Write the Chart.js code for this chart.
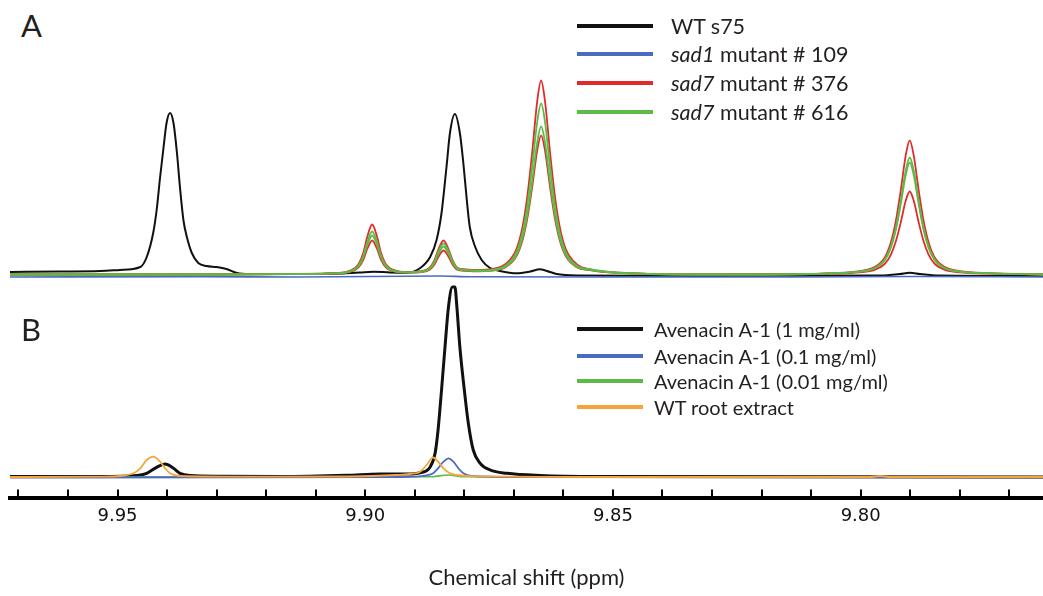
<!DOCTYPE html>
<html>
<head>
<meta charset="utf-8">
<script src="https://cdn.jsdelivr.net/npm/chart.js@4/dist/chart.umd.min.js"></script>
<style>
  body { margin: 0; background: #fff; }
  #wrap { position: relative; width: 1043px; height: 596px; overflow: hidden; font-family: Lato, 'Open Sans', sans-serif; color: #231f20; }
  canvas { position: absolute; left: 0; }
  .panel { position: absolute; left: 21px; font-size: 31px; line-height: 31px; }
  .lg-line { position: absolute; height: 4px; }
  .lg-text { position: absolute; line-height: 24px; white-space: nowrap; }
</style>
</head>
<body>
<div id="wrap">
  <canvas id="chartA" width="1043" height="225" style="top:60px"></canvas>
  <canvas id="chartB" width="1043" height="316" style="top:280px"></canvas>
  <div class="panel" style="top:10px">A</div>
  <div class="panel" style="top:314px">B</div>
</div>
<script>
// ---- panel A : root extracts ----
const namesA = ['WT s75', '<i>sad1</i> mutant # 109', '<i>sad7</i> mutant # 376', '<i>sad7</i> mutant # 616']
const coloursA = ['#111111', '#4a6cc0', '#e32a2a', '#5dba47']

const ppmWtA = [9.9717, 9.9616, 9.9535, 9.9495, 9.9454, 9.9441, 9.9428, 9.9421, 9.9414, 9.9407, 9.9401, 9.9394, 9.9387, 9.9380, 9.9374, 9.9367, 9.9360, 9.9350, 9.9337, 9.9320, 9.9300, 9.9280, 9.9259, 9.9233, 9.9132, 9.9051, 9.9011, 9.8984, 9.8950, 9.8916, 9.8889, 9.8869, 9.8856, 9.8846, 9.8836, 9.8829, 9.8819, 9.8809, 9.8802, 9.8795, 9.8789, 9.8778, 9.8765, 9.8748, 9.8728, 9.8694, 9.8667, 9.8647, 9.8627, 9.8614, 9.8573, 9.8324, 9.7961, 9.7921, 9.7901, 9.7880, 9.7840, 9.7632]
const intWtA = [4, 4.5, 5, 6, 9, 19, 43, 66, 99, 129, 153, 163, 153, 123, 89, 56, 39, 23, 13, 10, 9, 7, 3, 2, 2, 2.5, 3.5, 4.3, 3.5, 3.3, 8, 19, 36, 63, 109, 143, 162, 143, 113, 76, 49, 29, 16, 8, 5, 2.7, 4.5, 6.7, 4, 2, 0.5, 0, 0.5, 2, 3.3, 2, 0.5, 0]

const ppmSad1A = [9.9717, 9.9333, 9.9132, 9.8849, 9.8789, 9.8529, 9.8123, 9.7901, 9.7632]
const intSad1A = [-1, -0.8, -1, 0, -0.8, -1, -1, -0.5, -1]

// sad7 lines share one ppm grid (two traces per mutant)
const ppmSad7A = [9.9717, 9.9500, 9.9400, 9.9300, 9.9150, 9.9057, 9.9030, 9.9014, 9.9004, 9.8996, 9.8986, 9.8976, 9.8968, 9.8958, 9.8942, 9.8914, 9.8886, 9.8870, 9.8860, 9.8852, 9.8842, 9.8832, 9.8824, 9.8814, 9.8798, 9.8771, 9.8746, 9.8716, 9.8695, 9.8683, 9.8673, 9.8663, 9.8653, 9.8645, 9.8637, 9.8627, 9.8617, 9.8607, 9.8595, 9.8574, 9.8544, 9.8484, 9.8300, 9.8100, 9.8062, 9.8002, 9.7972, 9.7951, 9.7939, 9.7929, 9.7919, 9.7909, 9.7901, 9.7893, 9.7883, 9.7873, 9.7863, 9.7851, 9.7830, 9.7800, 9.7740, 9.7632]
const int376a = [1.5, 1.5, 1.5, 1.5, 2, 3, 5.5, 11.5, 23, 39, 51.5, 39, 23, 11.5, 6, 4, 4.8, 8.3, 16.1, 27, 35.5, 27, 16.1, 8.3, 6.7, 6, 6.8, 12.2, 26.7, 48.1, 79.1, 123.7, 174.2, 195.5, 174.2, 123.7, 79.1, 48.1, 26.7, 12.2, 6.4, 3.4, 1.5, 2, 2.8, 4.9, 8.9, 18.9, 33.7, 55.1, 85.9, 120.8, 135.5, 120.8, 85.9, 55.1, 33.7, 18.9, 8.9, 4.9, 2.8, 1.5]
const int376b = [1.5, 1.5, 1.5, 1.5, 1.8, 2.5, 4.2, 8.3, 16.1, 27, 35.5, 27, 16.1, 8.3, 4.5, 3.2, 3.8, 6.3, 11.8, 19.5, 25.5, 19.5, 11.8, 6.3, 5.2, 4.7, 5.3, 9.1, 19.6, 34.9, 57.1, 89.1, 125.2, 140.5, 125.2, 89.1, 57.1, 34.9, 19.6, 9.1, 5.7, 2.9, 1.5, 2, 2.3, 3.6, 6.1, 12.3, 21.4, 34.7, 53.8, 75.4, 84.5, 75.4, 53.8, 34.7, 21.4, 12.3, 6.1, 3.6, 2.3, 1.5]
const int616a = [1.5, 1.5, 1.5, 1.5, 1.9, 2.8, 4.9, 10.1, 20, 33.8, 44.5, 33.8, 20, 10.1, 5.3, 3.7, 4.5, 7.7, 14.8, 24.8, 32.5, 24.8, 14.8, 7.7, 6.2, 5.5, 6.2, 10.9, 23.7, 42.5, 69.9, 109.2, 153.7, 172.5, 153.7, 109.2, 69.9, 42.5, 23.7, 10.9, 6.6, 3.2, 1.5, 2, 2.7, 4.4, 7.9, 16.7, 29.6, 48.3, 75.2, 105.6, 118.5, 105.6, 75.2, 48.3, 29.6, 16.7, 7.9, 4.4, 2.7, 1.5]
const int616b = [1.5, 1.5, 1.5, 1.5, 1.9, 2.7, 4.6, 9.3, 18.3, 30.8, 40.5, 30.8, 18.3, 9.3, 4.9, 3.5, 4.2, 7.1, 13.5, 22.5, 29.5, 22.5, 13.5, 7.1, 5.6, 5, 5.5, 9.6, 20.7, 37, 60.7, 94.7, 133.2, 149.5, 133.2, 94.7, 60.7, 37, 20.7, 9.6, 5.9, 3, 1.5, 2, 2.6, 4.3, 7.7, 16.1, 28.4, 46.3, 72.1, 101.2, 113.5, 101.2, 72.1, 46.3, 28.4, 16.1, 7.7, 4.3, 2.6, 1.5]

// ---- panel B : avenacin A-1 standards ----
const namesB = ['Avenacin A-1 (1 mg/ml)', 'Avenacin A-1 (0.1 mg/ml)', 'Avenacin A-1 (0.01 mg/ml)', 'WT root extract']
const coloursB = ['#111111', '#4a6cc0', '#5dba47', '#f7a53b']

const ppm1mg = [9.9717, 9.9535, 9.9461, 9.9441, 9.9421, 9.9404, 9.9387, 9.9374, 9.9354, 9.9293, 9.9172, 9.9037, 9.8970, 9.8916, 9.8889, 9.8869, 9.8859, 9.8853, 9.8846, 9.8839, 9.8832, 9.8824, 9.8819, 9.8815, 9.8809, 9.8800, 9.8792, 9.8782, 9.8768, 9.8748, 9.8714, 9.8647, 9.8529, 9.7632]
const int1mg = [0.5, 0.5, 1.5, 3.7, 9.7, 13, 8.7, 3.7, 1.5, 0.8, 0.5, 1.7, 3, 3, 4.3, 10, 23.7, 47, 87, 130, 170, 190, 190, 170, 130, 87, 54, 27, 13.7, 7, 3.7, 1.5, 0.5, 0]
const ppm01mg = [9.9717, 9.8930, 9.8876, 9.8863, 9.8853, 9.8842, 9.8832, 9.8822, 9.8812, 9.8802, 9.8785, 9.8688, 9.7632]
const int01mg = [-0.5, 0, 1.7, 3.7, 8.7, 15.3, 18.7, 15.3, 8.7, 3.7, 1, 0, -0.5]
const ppm001mg = [9.9717, 9.8869, 9.8833, 9.8799, 9.7632]
const int001mg = [0, 0.3, 2, 0.3, 0]
const ppmRoot = [9.9717, 9.9535, 9.9495, 9.9468, 9.9454, 9.9441, 9.9428, 9.9414, 9.9404, 9.9394, 9.9374, 9.9233, 9.9031, 9.8937, 9.8910, 9.8889, 9.8876, 9.8863, 9.8853, 9.8842, 9.8829, 9.8815, 9.8789, 9.8529, 9.7981, 9.7961, 9.7941, 9.7632]
const intRoot = [0, 0.3, 1, 3.7, 8.7, 17, 20.3, 15.3, 8.7, 3.7, 1, 0.3, 0.5, 2, 3, 5.3, 12, 19.5, 15.3, 8.7, 3.7, 2, 0.8, 0, 0, 1, 0, 0]

// axis range (ppm) and ticks
const ppmMin = 9.7632
const ppmMax = 9.9717
const tickStep = 0.01
const tickLabels = ['9.95', '9.90', '9.85', '9.80']

const pts = (xs, ys) => xs.map((x, i) => ({x: x, y: ys[i]}))
const line = (data, colour, width) => ({
   data: data, borderColor: colour, borderWidth: width, pointRadius: 0,
   fill: false, cubicInterpolationMode: 'monotone'
})

const xScale = (show) => ({
   type: 'linear', reverse: true, min: ppmMin, max: ppmMax, display: show,
   ticks: {
      stepSize: tickStep, autoSkip: false, maxRotation: 0, includeBounds: false, padding: 8,
      color: '#111', font: {family: 'DejaVu Sans', size: 18},
      callback: (v) => {
         const s = v.toFixed(2)
         return tickLabels.includes(s) ? s : ''
      }
   },
   grid: {display: false, drawTicks: false},
   border: {display: true, width: 4, color: '#000'},
   title: {display: true, text: 'Chemical shift (ppm)', color: '#231f20',
      font: {family: 'Lato', size: 22}, padding: {top: 29.5, bottom: 5}}
})

// short upward tick marks on the bottom axis
const tickMarks = {
   id: 'tickMarks',
   afterDraw(chart) {
      const xs = chart.scales.x
      const ctx = chart.ctx
      const y0 = chart.chartArea.bottom - 1
      ctx.save()
      ctx.strokeStyle = '#000'
      ctx.lineWidth = 2
      xs.ticks.forEach(t => {
         const px = Math.round(xs.getPixelForValue(t.value))
         ctx.beginPath()
         ctx.moveTo(px, y0 - 7)
         ctx.lineTo(px, y0)
         ctx.stroke()
      })
      ctx.restore()
   }
}

const baseOptions = (yMin, yMax, showX) => ({
   responsive: false, animation: false,
   layout: {padding: {left: 10, right: 0, top: 0, bottom: 0}},
   plugins: {legend: {display: false}, tooltip: {enabled: false}},
   scales: {
      x: xScale(showX),
      y: {display: false, min: yMin, max: yMax}
   }
})

new Chart(document.getElementById('chartA'), {
   type: 'line',
   data: {datasets: [
      line(pts(ppmSad7A, int616a), coloursA[3], 1.8),
      line(pts(ppmSad7A, int616b), coloursA[3], 1.8),
      line(pts(ppmSad7A, int376a), coloursA[2], 1.8),
      line(pts(ppmSad7A, int376b), coloursA[2], 1.8),
      line(pts(ppmSad1A, intSad1A), coloursA[1], 1.6),
      line(pts(ppmWtA, intWtA), coloursA[0], 2)
   ]},
   options: baseOptions(-9, 216, false)
})

new Chart(document.getElementById('chartB'), {
   type: 'line',
   data: {datasets: [
      line(pts(ppmRoot, intRoot), coloursB[3], 1.8),
      line(pts(ppm01mg, int01mg), coloursB[1], 1.8),
      line(pts(ppm001mg, int001mg), coloursB[2], 1.6),
      line(pts(ppm1mg, int1mg), coloursB[0], 3)
   ]},
   options: baseOptions(-20.5, 197, true),
   plugins: [tickMarks]
})

// html legends (needed for the italic gene names)
const wrap = document.getElementById('wrap')
const addLegend = (names, colours, ys, x0, len, tx, size) => {
   names.forEach((n, i) => {
      const l = document.createElement('div')
      l.className = 'lg-line'
      l.style.cssText = `left:${x0}px;top:${ys[i] - 2}px;width:${len}px;background:${colours[i]}`
      wrap.appendChild(l)
      const t = document.createElement('div')
      t.className = 'lg-text'
      t.style.cssText = `left:${tx}px;top:${ys[i] - 12}px;font-size:${size}px`
      t.innerHTML = n
      wrap.appendChild(t)
   })
}
addLegend(namesA, coloursA, [26, 54, 83, 112], 577, 76, 671, 21.5)
addLegend(namesB, coloursB, [329, 356, 381, 407], 577, 66, 654, 20)
</script>
</body>
</html>
